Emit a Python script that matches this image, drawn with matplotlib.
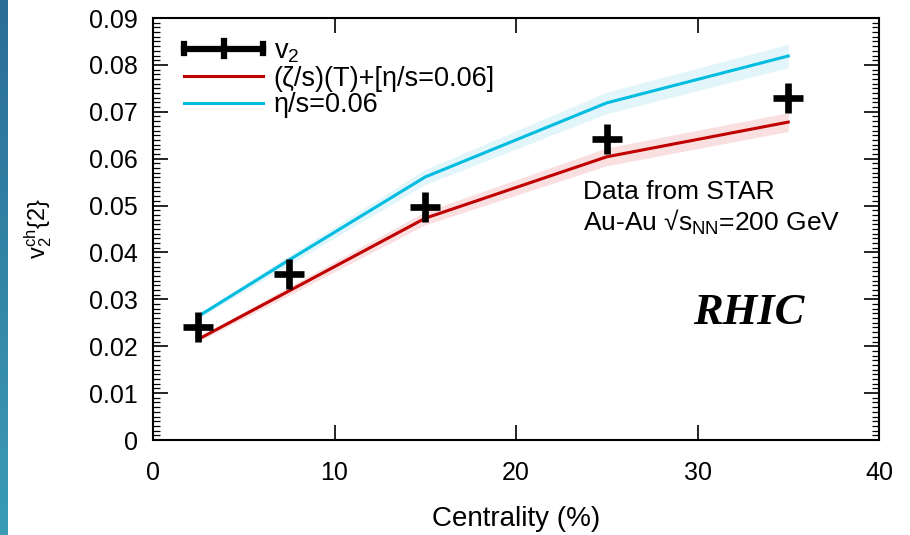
import numpy as np
import matplotlib
matplotlib.use("Agg")
import matplotlib.pyplot as plt
from matplotlib.legend_handler import HandlerBase
from matplotlib.lines import Line2D
from matplotlib.ticker import MultipleLocator
from matplotlib.colors import LinearSegmentedColormap

plt.rcParams['font.family'] = ['Liberation Sans', 'DejaVu Sans']
plt.rcParams['mathtext.fontset'] = 'custom'
plt.rcParams['mathtext.rm'] = 'Liberation Sans'
plt.rcParams['mathtext.it'] = 'Liberation Sans'

# Data
data_x = [2.5, 7.5, 15, 25, 35]
data_v2 = [0.0241, 0.0354, 0.0497, 0.0642, 0.0729]

model_x = [2.5, 7.5, 15, 25, 35]
bulk_v2 = [0.0215, 0.0318, 0.0473, 0.0604, 0.0678]
bulk_err = [0.0005, 0.0009, 0.0014, 0.0019, 0.0020]
shear_v2 = [0.0264, 0.0384, 0.0561, 0.0719, 0.0819]
shear_err = [0.0005, 0.0010, 0.0016, 0.0023, 0.0025]

labels = ['v$_2$', '(ζ/s)(T)+[η/s=0.06]', 'η/s=0.06']
xticks = [0, 10, 20, 30, 40]
yticks = [0, 0.01, 0.02, 0.03, 0.04, 0.05, 0.06, 0.07, 0.08, 0.09]

RED = '#c00000'
CYAN = '#00bde0'

fig = plt.figure(figsize=(9.1, 5.35), dpi=100)

# decorative left strip
strip = fig.add_axes([0, 0, 8 / 910, 1])
grad = np.linspace(0, 1, 256).reshape(-1, 1)
cm = LinearSegmentedColormap.from_list('s', ['#2a6d95', '#3b9cb6'])
strip.imshow(grad, aspect='auto', cmap=cm, extent=[0, 1, 0, 1], origin='upper')
strip.axis('off')

ax = fig.add_axes([153 / 910, 1 - 440 / 535, (879 - 153) / 910, (440 - 18) / 535])

bx = np.array(model_x)
ax.fill_between(bx, np.array(shear_v2) - shear_err, np.array(shear_v2) + shear_err,
                color='#e2f5fb', lw=0, zorder=1)
ax.fill_between(bx, np.array(bulk_v2) - bulk_err, np.array(bulk_v2) + bulk_err,
                color='#f9dfe0', lw=0, zorder=1)
l_bulk, = ax.plot(model_x, bulk_v2, color=RED, lw=2.2, zorder=3)
l_shear, = ax.plot(model_x, shear_v2, color=CYAN, lw=2.2, zorder=3)
pts, = ax.plot(data_x, data_v2, ls='none', marker='+', ms=21, mew=4.8, color='black', zorder=5)


class CrossHandler(HandlerBase):
    def create_artists(self, legend, orig, xd, yd, width, height, fontsize, trans):
        y = height / 2 - yd
        x0, x1 = -xd, width - xd
        xm = (x0 + x1) / 2
        h = height * 0.5
        arts = [
            Line2D([x0, x1], [y, y], color='black', lw=4.5),
            Line2D([x0, x0], [y - h / 2, y + h / 2], color='black', lw=4.5),
            Line2D([x1, x1], [y - h / 2, y + h / 2], color='black', lw=4.5),
            Line2D([xm, xm], [y - h * 0.8, y + h * 0.8], color='black', lw=4.5),
        ]
        for a in arts:
            a.set_transform(trans)
        return arts


leg = ax.legend([pts, l_bulk, l_shear], labels, handler_map={pts: CrossHandler()},
                loc='upper left', bbox_to_anchor=(0.017, 0.997), frameon=False,
                fontsize=19.5, handlelength=2.9, handletextpad=0.4, labelspacing=0.03,
                borderpad=0.2)

ax.set_xlim(0, 40)
ax.set_ylim(0, 0.09)
ax.set_xticks(xticks)
ax.set_xticklabels([str(t) for t in xticks])
ax.set_yticks(yticks)
ax.set_yticklabels(['0' if t == 0 else f'{t:.2f}' for t in yticks])
ax.yaxis.set_minor_locator(MultipleLocator(0.001))
ax.tick_params(axis='both', which='major', direction='in', top=True, right=True,
               length=11, width=1.2, labelsize=18, pad=11)
ax.tick_params(axis='y', which='minor', direction='in', right=True, left=True,
               length=5, width=0.9)
ax.tick_params(axis='x', which='minor', bottom=False, top=False)
ax.tick_params(axis='x', which='major', pad=15)
for s in ax.spines.values():
    s.set_linewidth(1.5)

ax.set_xlabel('Centrality (%)', fontsize=20, labelpad=15)
ax.set_ylabel(r'v$_2^{\rm ch}${2}', fontsize=17, labelpad=25)

ax.text(23.7, 0.0529, 'Data from STAR', fontsize=19, va='center')
ax.text(23.7, 0.0465, r'Au-Au √s$_{\rm NN}$=200 GeV', fontsize=19, va='center')
ax.text(32.8, 0.0271, 'RHIC', fontsize=32, ha='center', va='center',
        family=['Liberation Serif', 'DejaVu Serif'], fontweight='bold', fontstyle='italic')

fig.savefig('out.png', dpi=100)
